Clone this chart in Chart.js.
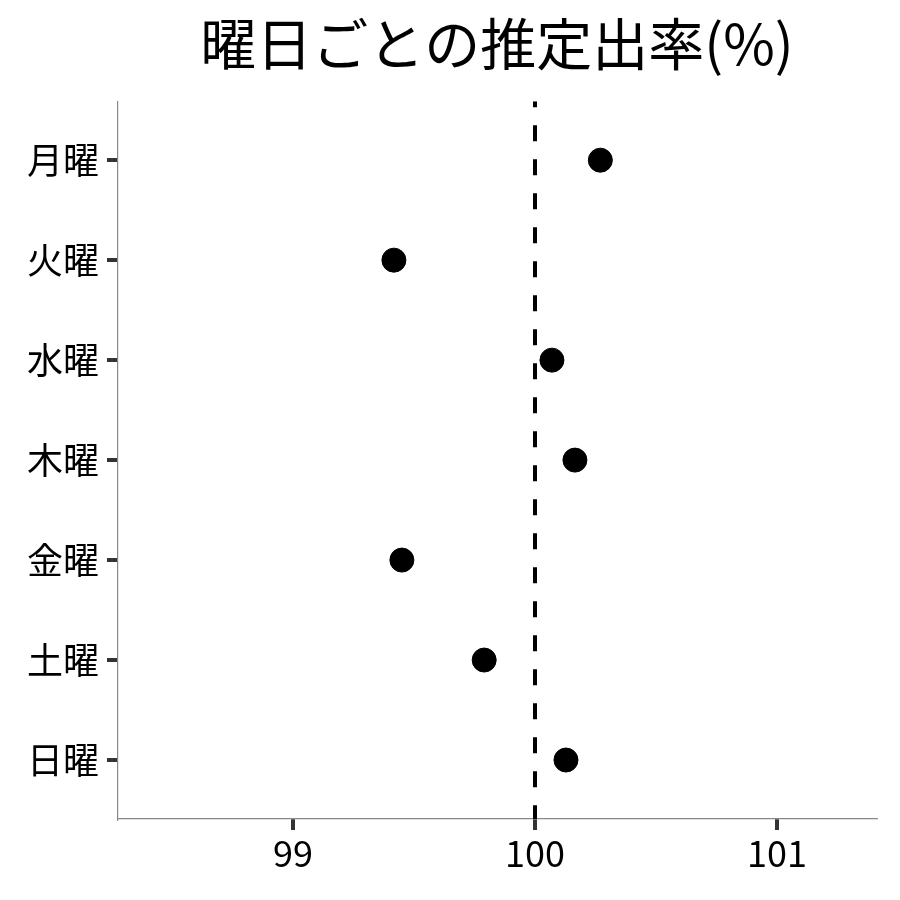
<!DOCTYPE html>
<html>
<head>
<meta charset="utf-8">
<script src="https://cdn.jsdelivr.net/npm/chart.js@4/dist/chart.umd.min.js"></script>
<style>
  body { margin: 0; background: #fff; }
  #wrap { width: 900px; height: 900px; }
</style>
</head>
<body>
<div id="wrap"><canvas id="canvas1" width="900" height="900"></canvas></div>
<script>
// 曜日ごとの推定出率
var days = ["月曜", "火曜", "水曜", "木曜", "金曜", "土曜", "日曜"];
var rates = [100.27, 99.417, 100.07, 100.165, 99.45, 99.79, 100.128];
var xTicks = [99, 100, 101];
var refValue = 100;

var fontFamily = "'Noto Sans CJK JP', 'Noto Sans', sans-serif";

var points = days.map(function (d, i) {
    return { x: rates[i], y: i + 1 };
});

var yMin = 0.41, yMax = days.length + 0.59;

new Chart(document.getElementById("canvas1"), {
    type: 'scatter',
    data: {
        datasets: [{
            type: 'line',
            data: [{ x: refValue, y: yMin }, { x: refValue, y: yMax }],
            borderColor: '#000',
            borderWidth: 4,
            borderDash: [16, 18],
            borderDashOffset: 10,
            pointRadius: 0,
            fill: false
        }, {
            data: points,
            backgroundColor: '#000',
            borderColor: '#000',
            pointRadius: 12,
            pointHoverRadius: 12
        }]
    },
    options: {
        responsive: false,
        animation: false,
        layout: { padding: { left: 20, right: 24, top: 10, bottom: 0 } },
        plugins: {
            legend: { display: false },
            tooltip: { enabled: false },
            title: {
                display: true,
                text: '曜日ごとの推定出率(%)',
                color: '#000',
                fullSize: false,
                font: { family: fontFamily, size: 56, weight: 'normal' },
                padding: { top: 0, bottom: 24 }
            }
        },
        scales: {
            x: {
                type: 'linear',
                min: 98.277,
                max: 101.409,
                afterBuildTicks: function (axis) {
                    axis.ticks = xTicks.map(function (v) { return { value: v }; });
                },
                afterFit: function (axis) { axis.height = 81; },
                grid: { drawOnChartArea: false, tickLength: 11, tickColor: '#333', lineWidth: 4, tickWidth: 4 },
                border: { color: '#888', width: 1.2 },
                ticks: {
                    color: '#000',
                    padding: 2,
                    font: { family: fontFamily, size: 36 }
                }
            },
            y: {
                type: 'linear',
                reverse: true,
                min: yMin,
                max: yMax,
                afterBuildTicks: function (axis) {
                    axis.ticks = days.map(function (d, i) { return { value: i + 1 }; });
                },
                afterFit: function (axis) { axis.width = 98; },
                grid: { drawOnChartArea: false, tickLength: 11, tickColor: '#333', lineWidth: 4, tickWidth: 4 },
                border: { color: '#888', width: 1.2 },
                ticks: {
                    color: '#000',
                    padding: 8,
                    font: { family: fontFamily, size: 36 },
                    callback: function (v) { return days[v - 1]; }
                }
            }
        }
    }
});
</script>
</body>
</html>
